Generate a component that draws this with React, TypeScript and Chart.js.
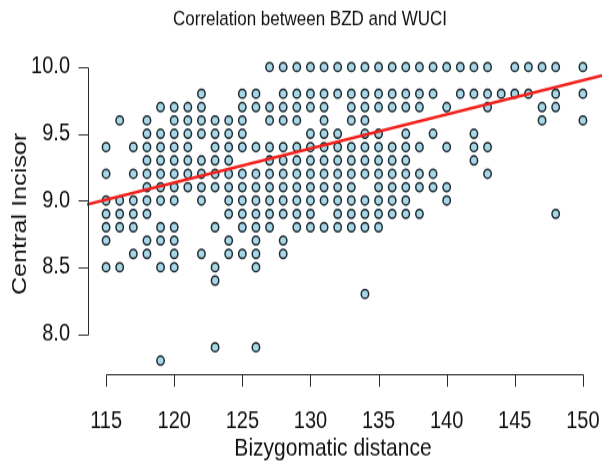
import React, { useEffect, useRef } from 'react';
import { Chart, registerables } from 'chart.js';

Chart.register(...registerables);

// ---------- text ----------
const chartTitle = 'Correlation between BZD and WUCI';
const xAxisTitle = 'Bizygomatic distance';
const yAxisTitle = 'Central Incisor';

// ---------- ticks ----------
const xTickValues = [115, 120, 125, 130, 135, 140, 145, 150];
const yTickValues = [8.0, 8.5, 9.0, 9.5, 10.0];

// ---------- data: WUCI values observed at each bizygomatic distance ----------
const c115 = [9.4, 9.2, 9.0, 8.9, 8.8, 8.7, 8.5];
const c116 = [9.6, 9.0, 8.9, 8.8, 8.5];
const c117 = [9.4, 9.2, 9.0, 8.9, 8.8, 8.6];
const c118 = [9.6, 9.5, 9.4, 9.3, 9.2, 9.1, 9.0, 8.9, 8.7, 8.6];
const c119 = [9.7, 9.5, 9.4, 9.3, 9.2, 9.1, 9.0, 8.8, 8.7, 8.5, 7.8];
const c120 = [9.7, 9.6, 9.5, 9.4, 9.3, 9.2, 9.1, 9.0, 8.8, 8.7, 8.6, 8.5];
const c121 = [9.7, 9.6, 9.5, 9.4, 9.3, 9.2, 9.1];
const c122 = [9.8, 9.7, 9.6, 9.5, 9.3, 9.2, 9.1, 9.0, 8.6];
const c123 = [9.6, 9.5, 9.4, 9.3, 9.2, 9.1, 8.8, 8.5, 8.4, 7.9];
const c124 = [9.6, 9.5, 9.4, 9.3, 9.2, 9.1, 9.0, 8.9, 8.7, 8.6];
const c125 = [9.8, 9.7, 9.6, 9.5, 9.4, 9.2, 9.1, 9.0, 8.9, 8.8, 8.6];
const c126 = [9.8, 9.7, 9.4, 9.2, 9.1, 9.0, 8.9, 8.8, 8.7, 8.6, 8.5, 7.9];
const c127 = [10.0, 9.7, 9.6, 9.4, 9.3, 9.2, 9.1, 9.0, 8.9, 8.8];
const c128 = [10.0, 9.8, 9.7, 9.6, 9.4, 9.3, 9.2, 9.1, 9.0, 8.9, 8.7, 8.6];
const c129 = [10.0, 9.8, 9.7, 9.6, 9.4, 9.3, 9.2, 9.1, 9.0, 8.9, 8.8];
const c130 = [10.0, 9.8, 9.7, 9.5, 9.4, 9.3, 9.2, 9.1, 9.0, 8.9, 8.8];
const c131 = [10.0, 9.8, 9.7, 9.6, 9.5, 9.4, 9.3, 9.2, 9.1, 9.0, 8.8];
const c132 = [10.0, 9.8, 9.5, 9.4, 9.3, 9.2, 9.1, 9.0, 8.9, 8.8];
const c133 = [10.0, 9.8, 9.7, 9.6, 9.4, 9.3, 9.2, 9.1, 9.0, 8.9, 8.8];
const c134 = [10.0, 9.8, 9.7, 9.6, 9.5, 9.4, 9.3, 9.2, 9.0, 8.9, 8.8, 8.3];
const c135 = [10.0, 9.8, 9.7, 9.5, 9.4, 9.3, 9.2, 9.1, 9.0, 8.9, 8.8];
const c136 = [10.0, 9.8, 9.7, 9.4, 9.3, 9.2, 9.1, 9.0, 8.9];
const c137 = [10.0, 9.8, 9.7, 9.5, 9.4, 9.3, 9.2, 9.1, 9.0, 8.9];
const c138 = [10.0, 9.8, 9.7, 9.4, 9.2, 9.1, 8.9];
const c139 = [10.0, 9.8, 9.5, 9.2, 9.1];
const c140 = [10.0, 9.7, 9.4, 9.1, 9.0];
const c141 = [10.0, 9.8];
const c142 = [10.0, 9.8, 9.5, 9.4, 9.3];
const c143 = [10.0, 9.8, 9.7, 9.4, 9.2];
const c144 = [9.8];
const c145 = [10.0, 9.8];
const c146 = [10.0, 9.8];
const c147 = [10.0, 9.7, 9.6];
const c148 = [10.0, 9.8, 9.7, 8.9];
const c149: number[] = [];
const c150 = [10.0, 9.8, 9.6];

const bzdValues = [
  115, 116, 117, 118, 119, 120, 121, 122, 123, 124, 125, 126,
  127, 128, 129, 130, 131, 132, 133, 134, 135, 136, 137, 138,
  139, 140, 141, 142, 143, 144, 145, 146, 147, 148, 149, 150,
];
const wuciColumns = [
  c115, c116, c117, c118, c119, c120, c121, c122, c123, c124, c125, c126,
  c127, c128, c129, c130, c131, c132, c133, c134, c135, c136, c137, c138,
  c139, c140, c141, c142, c143, c144, c145, c146, c147, c148, c149, c150,
];

// ---------- fitted regression line ----------
const fitX = [113.6, 151.4];
const fitY = [8.97, 9.937];

// ---------- axis ranges ----------
const xRange = [113.6, 151.4];
const yRange = [7.712, 10.088];

// ---------- layout ----------
const W = 603;
const H = 387; // drawn then stretched vertically to 464
const STRETCH = 464 / H;
const FONT = "'Liberation Sans', Arial, Helvetica, sans-serif";
const PLOT_LEFT = 87;
const PLOT_TOP = 46.1;
const PLOT_BOTTOM = 310.6;
const TITLE_CENTER_X = 310;
const TITLE_CENTER_Y = 16;
const XTITLE_CENTER_X = 333;
const XTITLE_CENTER_Y = 374;

const rAxesPlugin = {
  id: 'rAxes',
  afterDraw(chart: any) {
    const { ctx, chartArea } = chart;
    const xs = chart.scales.x;
    const ys = chart.scales.y;
    ctx.save();
    ctx.strokeStyle = '#2a2a2a';
    ctx.lineWidth = 1;
    ctx.beginPath();
    // x axis
    const ay = Math.round(chartArea.bottom + 1.5) + 0.5;
    const xa = Math.round(xs.getPixelForValue(xTickValues[0])) + 0.5;
    const xb = Math.round(xs.getPixelForValue(xTickValues[xTickValues.length - 1])) + 0.5;
    ctx.moveTo(xa, ay);
    ctx.lineTo(xb, ay);
    xTickValues.forEach((v) => {
      const p = Math.round(xs.getPixelForValue(v)) + 0.5;
      ctx.moveTo(p, ay);
      ctx.lineTo(p, ay + 10);
    });
    // y axis
    const ax = Math.round(chartArea.left + 1) + 0.5;
    const ya = Math.round(ys.getPixelForValue(yTickValues[0])) + 0.5;
    const yb = Math.round(ys.getPixelForValue(yTickValues[yTickValues.length - 1])) + 0.5;
    ctx.moveTo(ax, ya);
    ctx.lineTo(ax, yb);
    yTickValues.forEach((v) => {
      const p = Math.round(ys.getPixelForValue(v)) + 0.5;
      ctx.moveTo(ax, p);
      ctx.lineTo(ax - 10, p);
    });
    ctx.stroke();

    // titles
    ctx.fillStyle = '#111';
    ctx.textAlign = 'center';
    ctx.textBaseline = 'middle';
    ctx.font = `17px ${FONT}`;
    ctx.fillText(chartTitle, TITLE_CENTER_X, TITLE_CENTER_Y);
    ctx.font = `21px ${FONT}`;
    ctx.fillText(xAxisTitle, XTITLE_CENTER_X, XTITLE_CENTER_Y);
    ctx.restore();
  },
};

export default function App() {
  const canvasRef = useRef<HTMLCanvasElement | null>(null);

  useEffect(() => {
    document.body.style.margin = '0';
    const canvas = canvasRef.current;
    if (!canvas) return;

    const points: { x: number; y: number }[] = [];
    bzdValues.forEach((bzd, i) => {
      wuciColumns[i].forEach((w) => points.push({ x: bzd, y: w }));
    });
    const fitLine = fitX.map((x, i) => ({ x, y: fitY[i] }));

    const chart = new Chart(canvas, {
      type: 'scatter',
      data: {
        datasets: [
          {
            type: 'line',
            data: fitLine,
            borderColor: '#f0201c',
            borderWidth: 2.6,
            pointRadius: 0,
            fill: false,
          } as any,
          {
            type: 'scatter',
            data: points,
            pointStyle: 'circle',
            pointRadius: 3.7,
            pointBorderWidth: 1.5,
            pointBackgroundColor: '#a8d7e8',
            pointBorderColor: '#1e2b31',
          } as any,
        ],
      },
      options: {
        responsive: false,
        animation: false,
        events: [],
        layout: {
          autoPadding: false,
          padding: { left: 0, right: 1, top: PLOT_TOP, bottom: 0 },
        },
        plugins: {
          legend: { display: false },
          tooltip: { enabled: false },
          title: { display: false },
        },
        scales: {
          x: {
            type: 'linear',
            min: xRange[0],
            max: xRange[1],
            grid: { display: false },
            border: { display: false },
            afterBuildTicks: (scale: any) => {
              scale.ticks = xTickValues.map((v) => ({ value: v }));
            },
            afterFit: (scale: any) => {
              scale.height = H - PLOT_BOTTOM;
              scale.paddingLeft = 0;
              scale.paddingRight = 0;
            },
            ticks: {
              color: '#111',
              font: { family: FONT, size: 20 },
              padding: 21,
              maxRotation: 0,
              autoSkip: false,
              callback: (v: any) => String(v),
            },
            title: { display: false },
          },
          y: {
            type: 'linear',
            min: yRange[0],
            max: yRange[1],
            grid: { display: false },
            border: { display: false },
            afterBuildTicks: (scale: any) => {
              scale.ticks = yTickValues.map((v) => ({ value: v }));
            },
            afterFit: (scale: any) => {
              scale.width = PLOT_LEFT;
              scale.paddingTop = 0;
              scale.paddingBottom = 0;
            },
            ticks: {
              color: '#111',
              font: { family: FONT, size: 20 },
              padding: 9,
              autoSkip: false,
              callback: (v: any) => Number(v).toFixed(1),
            },
            title: {
              display: true,
              text: yAxisTitle,
              color: '#111',
              font: { family: FONT, size: 21 },
              padding: { top: 7.4, bottom: 0 },
            },
          },
        },
      },
      plugins: [rAxesPlugin],
    });

    return () => chart.destroy();
  }, []);

  return (
    <div style={{ width: W, height: 464, overflow: 'hidden', background: '#ffffff' }}>
      <div
        style={{
          width: W,
          height: H,
          transform: `scaleY(${STRETCH})`,
          transformOrigin: '0 0',
        }}
      >
        <canvas
          ref={canvasRef}
          width={W}
          height={H}
          style={{ display: 'block', width: `${W}px`, height: `${H}px` }}
        />
      </div>
    </div>
  );
}
